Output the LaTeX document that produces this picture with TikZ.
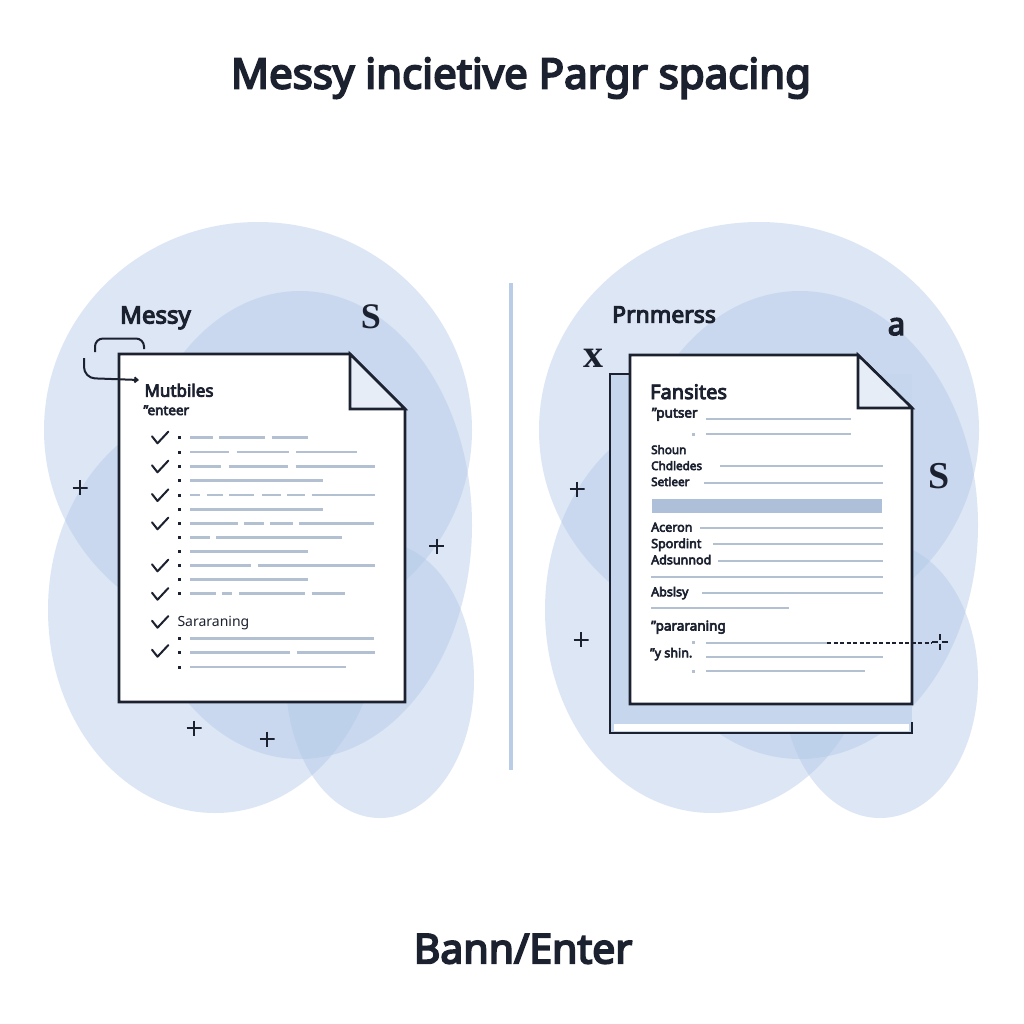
\documentclass[tikz,border=0pt]{standalone}
\usepackage{fontspec}
\setmainfont{Noto Sans}[AutoFakeBold=4.5]
\newfontfamily\glyphserif{Liberation Serif}
\usetikzlibrary{arrows.meta}
\definecolor{ink}{HTML}{1C2130}
\definecolor{blobc}{rgb}{0.70,0.79,0.91}
\definecolor{rulec}{HTML}{B3C0D2}
\definecolor{barc}{HTML}{AEBFD9}
\definecolor{foldc}{HTML}{E7EDF7}
\definecolor{backc}{HTML}{C6D6EC}
\definecolor{divc}{HTML}{BACDE6}
\newcommand\fsz[1]{\fontsize{#1}{#1}\selectfont}

\begin{document}
\begin{tikzpicture}[x=1pt,y=-1pt,
  blob/.style={fill=blobc, fill opacity=0.45},
  page/.style={draw=ink, line width=2.6pt, fill=white, line join=miter},
  fold/.style={draw=ink, line width=2.6pt, fill=foldc, line join=miter},
  txtln/.style={draw=rulec, line width=2.6pt},
  txtlnR/.style={draw=rulec, line width=2.3pt},
  lbl/.style={inner sep=0pt, text=ink, anchor=base west},
  glyph/.style={inner sep=0pt, text=ink, anchor=base},
  tickln/.style={draw=ink, line width=2pt, line cap=round, line join=round},
  loopln/.style={draw=ink, line width=2pt},
  dashln/.style={draw=ink, line width=1.8pt, dash pattern=on 4pt off 2.5pt},
  plusmk/.style={inner sep=0pt, minimum size=15pt,
    path picture={\draw[ink, line width=2pt]
      (path picture bounding box.west) -- (path picture bounding box.east)
      (path picture bounding box.north) -- (path picture bounding box.south);}},
  crossmk/.style={inner sep=0pt, minimum size=16pt,
    path picture={\draw[ink, line width=1.8pt, dash pattern=on 6pt off 4pt]
      (path picture bounding box.west) -- (path picture bounding box.east)
      (path picture bounding box.north) -- (path picture bounding box.south);}}
]
\useasboundingbox (0,0) rectangle (1024,1024);
\fill[white] (0,0) rectangle (1024,1024);

% soft background clouds, left group
\fill[blob] (258,430) ellipse [x radius=214pt, y radius=208pt];
\fill[blob] (300,525) ellipse [x radius=172pt, y radius=234pt];
\fill[blob] (215,610) ellipse [x radius=167pt, y radius=203pt];
\fill[blob] (380,680) ellipse [x radius=94pt, y radius=138pt];
% soft background clouds, right group
\fill[blob] (759,430) ellipse [x radius=220pt, y radius=208pt];
\fill[blob] (800,525) ellipse [x radius=178pt, y radius=234pt];
\fill[blob] (712,610) ellipse [x radius=167pt, y radius=203pt];
\fill[blob] (880,680) ellipse [x radius=98pt, y radius=138pt];

% divider
\draw[divc, line width=4pt] (511,283) -- (511,770);

% title and footer
\node[glyph, font=\fsz{42}\bfseries] (title) at (521,88.5) {Messy incietive Pargr spacing};
\node[glyph, font=\fsz{41}\bfseries] (footer) at (523,963.3) {Bann/Enter};

% ---------------- left document ----------------
\draw[page] (119,354) -- (350,354) -- (405,409) -- (405,702) -- (119,702) -- cycle;
\draw[fold] (350,354) -- (350,409) -- (405,409) -- cycle;
\coordinate (docL) at (119,380);

\node[lbl, font=\fsz{24}\bfseries] (messy) at (120,323.5) {Messy};
\node[glyph, font=\glyphserif\fsz{36}\bfseries] (sL) at (371,328) {S};
\node[lbl, font=\fsz{17}\bfseries] (mut) at (144.3,396.7) {Mutbiles};
\node[lbl, font=\fsz{13.5}\bfseries] (ent) at (143.3,415) {\symbol{"22}enteer};
\node[lbl, font=\fsz{14}] (sar) at (177.3,626.7) {Sararaning};

% looped arrow into the page
\coordinate (hookA) at (95,352);
\coordinate (hookB) at (144,349);
\draw[loopln, rounded corners=8pt] (hookA) -- (95,338.5) -- (144,338.5) -- (hookB);
\coordinate (loopS) at (84,358);
\draw[loopln, rounded corners=11pt, -{Straight Barb[length=3pt,width=5pt]}]
  (loopS) -- (84,378) -- (docL -| 139,378);

% check marks
\foreach \y in {437.3,466.3,495,523.3,565.3,593.7,621.7,650.7}
  \draw[tickln] (152,\y-1) -- (157.5,\y+6) -- (168.3,\y-5.6);

% bullets
\foreach \y in {437.3,452,466.3,480.7,495,509.3,523.3,537.3,551.3,565.3,579.3,593.7,638.7,652.7,667}
  \fill[ink] (177.8,\y-1.5) rectangle ++(3,3);

% text lines
\foreach \y/\a/\b in {
  437.3/190/212.7, 437.3/219/265, 437.3/271.7/307.7,
  452/190/229.3, 452/236.7/289.3, 452/296/356.7,
  466.3/190/221, 466.3/228.7/288.3, 466.3/295.7/375,
  480.7/190/322.7,
  495/190/200, 495/206.7/222.7, 495/229/254, 495/262/280.7, 495/286.7/305.3, 495/311.7/375,
  509.3/190/322.7,
  523.3/190/237.7, 523.3/244.3/264, 523.3/270.3/293.3, 523.3/299.3/373.7,
  537.3/190/210, 537.3/216/341.7,
  551.3/190/308.3,
  565.3/190/251.3, 565.3/258/375,
  579.3/190/307.7,
  593.7/190/215.7, 593.7/221.7/232.3, 593.7/239/305, 593.7/311.7/345,
  638.7/190/374.3,
  652.7/190/290, 652.7/296.7/375,
  667/190/345.7}
  \draw[txtln] (\a,\y) -- (\b,\y);

% plus marks, left
\node[plusmk] (pl1) at (80,487.5) {};
\node[plusmk] (pl2) at (436.5,546) {};
\node[plusmk] (pl3) at (194,728) {};
\node[plusmk] (pl4) at (267,739) {};

% ---------------- right document ----------------
\fill[backc] (610,374) rectangle (912,733);
\fill[white] (614,724) rectangle (909,731);
\draw[draw=ink, line width=2.6pt, line join=miter]
  (631,374) -- (610,374) -- (610,733) -- (912,733) -- (912,722);
\draw[page] (630,355) -- (858,355) -- (912,408) -- (912,704) -- (630,704) -- cycle;
\draw[fold] (858,355) -- (858,408) -- (912,408) -- cycle;

\node[lbl, font=\fsz{23}\bfseries] (prn) at (612,322.7) {Prnmerss};
\node[glyph, font=\fsz{31}\bfseries] (aR) at (896.5,335) {a};
\node[glyph, font=\glyphserif\fsz{40}\bfseries] (xR) at (593,367) {x};
\node[glyph, font=\glyphserif\fsz{38}\bfseries] (sR) at (939,488) {S};

\node[lbl, font=\fsz{20}\bfseries] (fan) at (650,399) {Fansites};
\node[lbl, font=\fsz{13.5}\bfseries] (put) at (651.7,417.5) {\symbol{"22}putser};
\node[lbl, font=\fsz{11.7}\bfseries] (sho) at (651,454) {Shoun};
\node[lbl, font=\fsz{11.7}\bfseries] (chd) at (651,470) {Chdledes};
\node[lbl, font=\fsz{11.7}\bfseries] (set) at (651,486) {Setleer};
\node[lbl, font=\fsz{12.5}\bfseries] (ace) at (651,531.7) {Aceron};
\node[lbl, font=\fsz{12.5}\bfseries] (spo) at (651,548) {Spordint};
\node[lbl, font=\fsz{12.5}\bfseries] (ads) at (651,564.3) {Adsunnod};
\node[lbl, font=\fsz{12.5}\bfseries] (abs) at (651,596.3) {Abslsy};
\node[lbl, font=\fsz{13.5}\bfseries] (par) at (651,630.5) {\symbol{"22}pararaning};
\node[lbl, font=\fsz{12.5}\bfseries] (ysh) at (650,657.3) {\symbol{"22}y shin.};

\fill[barc] (651.7,499) rectangle (881.7,513.3);
\foreach \y/\a/\b in {
  419.3/706/851, 434/706/851, 466/720/882.7, 482.7/704.3/882.7,
  528.3/700/882.7, 544.3/713.3/882.7, 561/718.3/882.7, 576.7/651/882.7,
  592.7/702.3/882.7, 608.3/651/788.7, 642.7/706/827,
  656.7/706/882.7, 671/706/865}
  \draw[txtlnR] (\a,\y) -- (\b,\y);
\foreach \y in {434,642.3,671}
  \fill[rulec] (692.3,\y-1.5) rectangle ++(3,3);

% dashed leader to the cross mark
\coordinate (dashS) at (827,642.7);
\node[crossmk] (xmark) at (940,642) {};
\draw[dashln] (dashS) -- (xmark.west |- dashS);

% plus marks, right
\node[plusmk] (pr1) at (577,489.3) {};
\node[plusmk] (pr2) at (581,639.6) {};
\end{tikzpicture}
\end{document}
